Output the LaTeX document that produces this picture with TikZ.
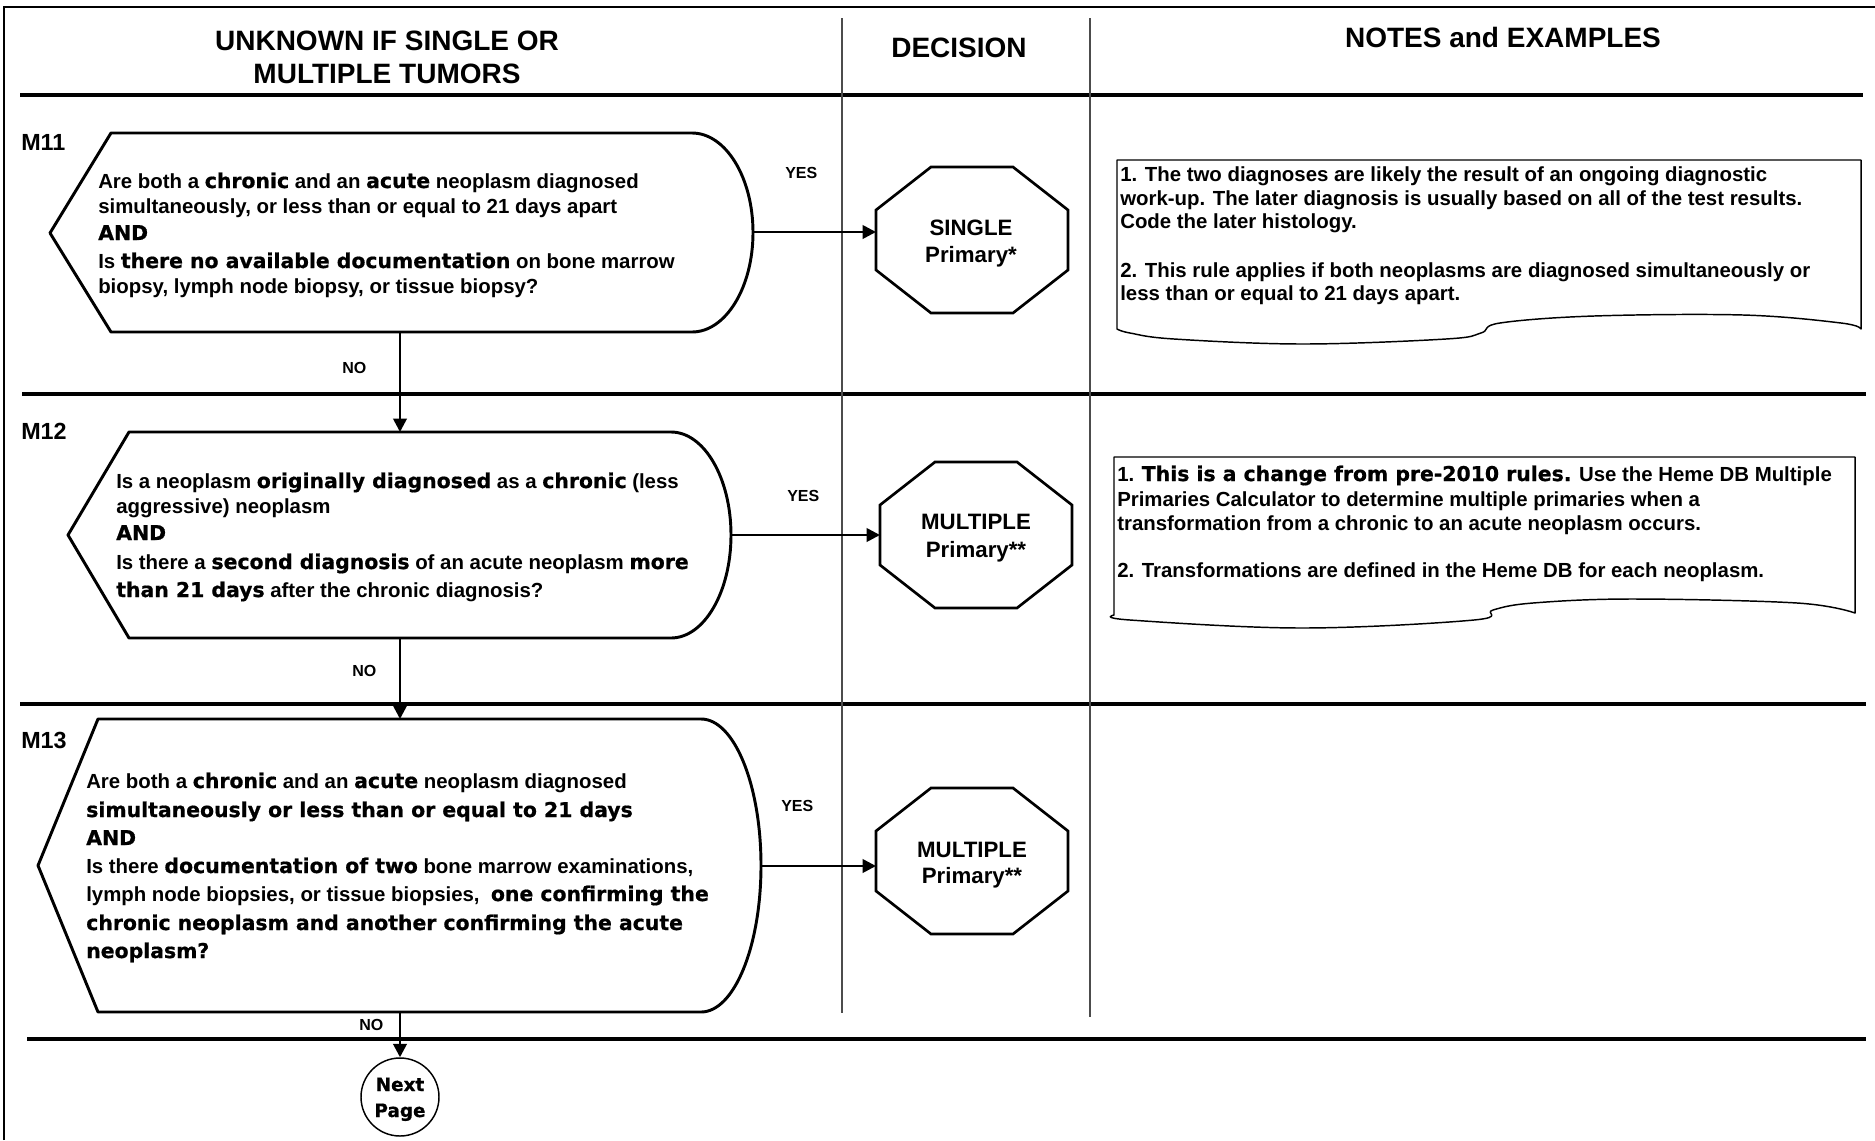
\documentclass[tikz,border=0pt]{standalone}
\usepackage{fontspec}
\setmainfont{Liberation Sans}
\newfontface\hvface{DejaVu Sans Bold}[FakeBold=0.8]
\usetikzlibrary{arrows.meta}
\newcommand\hvy[1]{{\hvface #1}}
\begin{document}
\begin{tikzpicture}[x=0.75pt,y=-0.75pt,
  txt/.style={anchor=base west,inner sep=0pt,font=\bfseries\fontsize{15.3}{18}\selectfont},
  hdr/.style={anchor=base,inner sep=0pt,font=\bfseries\fontsize{21}{25}\selectfont},
  lbl/.style={anchor=base west,inner sep=0pt,font=\bfseries\fontsize{17.5}{20}\selectfont},
  yn/.style={anchor=base west,inner sep=0pt,font=\bfseries\fontsize{12}{14}\selectfont},
  octtxt/.style={anchor=base,inner sep=0pt,font=\bfseries\fontsize{16.7}{20}\selectfont},
  nptxt/.style={anchor=base,inner sep=0pt,font=\hvface\fontsize{13.8}{16}\selectfont},
  qshape/.style={draw,line width=2.2pt,line join=round},
  octshape/.style={draw,line width=2pt,line join=miter},
  conn/.style={line width=2pt,-{Triangle[length=10pt,width=10pt]}},
  rowline/.style={line width=3.2pt},
  colline/.style={line width=1pt,black!70},
  notebox/.style={draw,line width=1.1pt,line join=round},
  octpic/.pic={\draw[octshape] (-41,-73) -- (41,-73) -- (96,-30) -- (96,30) -- (41,73) -- (-41,73) -- (-96,30) -- (-96,-30) -- cycle;}
]
\useasboundingbox (0,0) rectangle (1875,1140);

% frame and grid
\draw[line width=2pt] (4,1140) -- (4,7) -- (1875,7);
\draw[rowline] (20,95) -- (1863,95);
\draw[rowline] (22,394) -- (1866,394);
\draw[rowline] (20,704) -- (1866,704);
\draw[rowline] (27,1039) -- (1866,1039);
\draw[colline] (842,18) -- (842,1013);
\draw[colline] (1090,18) -- (1090,1017);

% headers
\node[hdr] (h1a) at (387,50) {UNKNOWN IF SINGLE OR};
\node[hdr] (h1b) at (387,83) {MULTIPLE TUMORS};
\node[hdr] (h2) at (959,57) {DECISION};
\node[hdr] (h3) at (1503,47) {NOTES and EXAMPLES};

% rule labels
\node[lbl] (l11) at (21,150) {M11};
\node[lbl] (l12) at (21,439) {M12};
\node[lbl] (l13) at (21,748) {M13};

% question shapes
\draw[qshape] (111,133) -- (692,133) arc[start angle=-90,end angle=90,x radius=61,y radius=99.5] -- (111,332) -- (50,233) -- cycle;
\draw[qshape] (129,432) -- (671,432) arc[start angle=-90,end angle=90,x radius=60,y radius=103] -- (129,638) -- (68,535) -- cycle;
\draw[qshape] (98,719) -- (701,719) arc[start angle=-90,end angle=90,x radius=60,y radius=146.5] -- (98,1012) -- (38,865.5) -- cycle;

% M11 text
\node[txt] (q11a) at (98,188) {Are both a \hvy{chronic} and an \hvy{acute} neoplasm diagnosed};
\node[txt] (q11b) at (98,213) {simultaneously, or less than or equal to 21 days apart};
\node[txt] (q11c) at (98,240) {\hvy{AND}};
\node[txt] (q11d) at (98,268) {Is \hvy{there no available documentation} on bone marrow};
\node[txt] (q11e) at (98,293) {biopsy, lymph node biopsy, or tissue biopsy?};

% M12 text
\node[txt] (q12a) at (116,488) {Is a neoplasm \hvy{originally diagnosed} as a \hvy{chronic} (less};
\node[txt] (q12b) at (116,513) {aggressive) neoplasm};
\node[txt] (q12c) at (116,540) {\hvy{AND}};
\node[txt] (q12d) at (116,569) {Is there a \hvy{second diagnosis} of an acute neoplasm \hvy{more}};
\node[txt] (q12e) at (116,597) {\hvy{than 21 days} after the chronic diagnosis?};

% M13 text
\node[txt] (q13a) at (86,788) {Are both a \hvy{chronic} and an \hvy{acute} neoplasm diagnosed};
\node[txt] (q13b) at (86,817) {\hvy{simultaneously or less than or equal to 21 days}};
\node[txt] (q13c) at (86,845) {\hvy{AND}};
\node[txt] (q13d) at (86,873) {Is there \hvy{documentation of two} bone marrow examinations,};
\node[txt] (q13e) at (86,901) {lymph node biopsies, or tissue biopsies,\ \ \hvy{one confirming the}};
\node[txt] (q13f) at (86,930) {\hvy{chronic neoplasm and another confirming the acute}};
\node[txt] (q13g) at (86,958) {\hvy{neoplasm?}};

% octagons
\pic at (972,240) {octpic};
\pic at (976,535) {octpic};
\pic at (972,861) {octpic};
\node[octtxt] (o1a) at (971,235) {SINGLE};
\node[octtxt] (o1b) at (971,262) {Primary*};
\node[octtxt] (o2a) at (976,529) {MULTIPLE};
\node[octtxt] (o2b) at (976,557) {Primary**};
\node[octtxt] (o3a) at (972,857) {MULTIPLE};
\node[octtxt] (o3b) at (972,883) {Primary**};

% next page
\node[circle,draw,line width=1.1pt,minimum size=58.5pt,inner sep=0pt] (np) at (400,1097) {};
\node[nptxt] (npa) at (400,1091) {Next};
\node[nptxt] (npb) at (400,1117) {Page};

% connection points
\coordinate (m11e) at (753,232);
\coordinate (o1w) at (876,232);
\coordinate (m12e) at (731,535);
\coordinate (o2w) at (880,535);
\coordinate (m13e) at (761,866);
\coordinate (o3w) at (876,866);
\coordinate (m11s) at (400,332);
\coordinate (m12n) at (400,432);
\coordinate (m12s) at (400,638);
\coordinate (m13n) at (400,719);
\coordinate (m13s) at (400,1012);

\draw[conn] (m11e) -- (o1w);
\draw[conn] (m12e) -- (o2w);
\draw[conn] (m13e) -- (o3w);
\draw[conn] (m11s) -- (m12n);
\draw[conn] (m12s) -- (m13n);
\draw[conn] (m13s) -- (np.north);

% yes / no labels
\node[yn] (y1) at (785,178) {YES};
\node[yn] (n1) at (342,373) {NO};
\node[yn] (y2) at (787,501) {YES};
\node[yn] (n2) at (352,676) {NO};
\node[yn] (y3) at (781,811) {YES};
\node[yn] (n3) at (359,1030) {NO};

% notes
\draw[notebox] plot[smooth,tension=0.6] coordinates {(1861,329) (1841,323) (1743,315) (1594,316) (1500,323) (1481,333) (1446,339) (1303,344) (1174,339) (1130,333) (1117,329)} -- (1117,160) -- (1861,160) -- cycle;
\node[txt] (n1a) at (1120,181) {1. The two diagnoses are likely the result of an ongoing diagnostic};
\node[txt] (n1b) at (1120,205) {work-up. The later diagnosis is usually based on all of the test results.};
\node[txt] (n1c) at (1120,228) {Code the later histology.};
\node[txt] (n1d) at (1120,277) {2. This rule applies if both neoplasms are diagnosed simultaneously or};
\node[txt] (n1e) at (1120,300) {less than or equal to 21 days apart.};

\draw[notebox] plot[smooth,tension=0.6] coordinates {(1855,613) (1797,603) (1632,599) (1533,603) (1493,610) (1474,620) (1302,628) (1130,620) (1114,615)} -- (1114,457) -- (1855,457) -- cycle;
\node[txt] (n2a) at (1117,481) {1. \hvy{This is a change from pre-2010 rules.} Use the Heme DB Multiple};
\node[txt] (n2b) at (1117,506) {Primaries Calculator to determine multiple primaries when a};
\node[txt] (n2c) at (1117,530) {transformation from a chronic to an acute neoplasm occurs.};
\node[txt] (n2d) at (1117,577) {2. Transformations are defined in the Heme DB for each neoplasm.};
\end{tikzpicture}
\end{document}
